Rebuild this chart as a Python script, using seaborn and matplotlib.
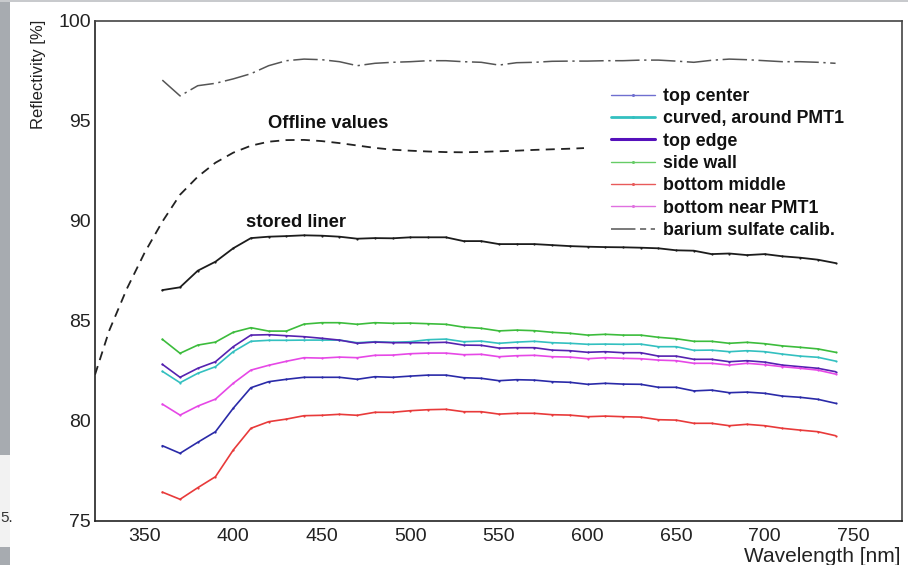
import matplotlib
matplotlib.use("Agg")
import matplotlib.pyplot as plt
import seaborn as sns
from matplotlib.lines import Line2D
from matplotlib.patches import Rectangle
from matplotlib.ticker import MultipleLocator

# ---------------- data ----------------
wavelength = [360, 370, 380, 390, 400, 410, 420, 430, 440, 450, 460, 470, 480,
              490, 500, 510, 520, 530, 540, 550, 560, 570, 580, 590, 600, 610,
              620, 630, 640, 650, 660, 670, 680, 690, 700, 710, 720, 730, 740]

top_center = [78.75, 78.37, 78.92, 79.45, 80.62, 81.65, 81.95, 82.07, 82.17, 82.17,
              82.17, 82.07, 82.20, 82.17, 82.23, 82.28, 82.28, 82.15, 82.12, 82.00,
              82.05, 82.03, 81.95, 81.92, 81.82, 81.87, 81.83, 81.82, 81.67, 81.67,
              81.49, 81.53, 81.40, 81.43, 81.37, 81.23, 81.17, 81.07, 80.87]

curved_pmt1 = [82.47, 81.90, 82.37, 82.70, 83.45, 83.97, 84.02, 84.02, 84.03, 84.03,
               84.03, 83.90, 83.95, 83.92, 83.95, 84.05, 84.08, 83.95, 83.98, 83.87,
               83.93, 83.97, 83.90, 83.87, 83.82, 83.83, 83.82, 83.83, 83.70, 83.70,
               83.52, 83.53, 83.45, 83.50, 83.45, 83.33, 83.23, 83.17, 82.98]

top_edge = [82.82, 82.17, 82.62, 82.95, 83.70, 84.28, 84.30, 84.25, 84.20, 84.12,
            84.03, 83.87, 83.93, 83.90, 83.90, 83.90, 83.92, 83.78, 83.77, 83.63,
            83.65, 83.65, 83.53, 83.50, 83.42, 83.45, 83.40, 83.40, 83.23, 83.23,
            83.07, 83.07, 82.95, 83.00, 82.93, 82.78, 82.70, 82.62, 82.45]

side_wall = [84.07, 83.37, 83.78, 83.93, 84.42, 84.65, 84.48, 84.48, 84.83, 84.90,
             84.90, 84.82, 84.90, 84.87, 84.88, 84.85, 84.82, 84.68, 84.62, 84.49,
             84.53, 84.50, 84.42, 84.37, 84.28, 84.32, 84.28, 84.28, 84.17, 84.10,
             83.97, 83.97, 83.87, 83.92, 83.85, 83.74, 83.67, 83.59, 83.42]

bottom_middle = [76.43, 76.07, 76.65, 77.20, 78.53, 79.62, 79.95, 80.08, 80.25, 80.27,
                 80.32, 80.27, 80.42, 80.42, 80.50, 80.55, 80.57, 80.45, 80.45, 80.33,
                 80.37, 80.37, 80.30, 80.28, 80.20, 80.23, 80.20, 80.18, 80.05, 80.03,
                 79.87, 79.87, 79.75, 79.82, 79.75, 79.62, 79.53, 79.45, 79.25]

bottom_near_pmt1 = [80.83, 80.28, 80.73, 81.08, 81.87, 82.53, 82.77, 82.97, 83.15, 83.13,
                    83.18, 83.15, 83.27, 83.28, 83.35, 83.38, 83.38, 83.30, 83.32, 83.20,
                    83.25, 83.27, 83.20, 83.18, 83.10, 83.15, 83.12, 83.10, 83.03, 83.00,
                    82.87, 82.87, 82.78, 82.87, 82.80, 82.70, 82.62, 82.53, 82.33]

barium_sulfate = [97.03, 96.24, 96.75, 96.87, 97.09, 97.35, 97.75, 98.00, 98.08, 98.05,
                  97.95, 97.75, 97.87, 97.92, 97.95, 98.00, 98.00, 97.95, 97.92, 97.78,
                  97.90, 97.92, 97.97, 97.98, 97.98, 98.00, 98.00, 98.03, 98.03, 97.98,
                  97.92, 98.02, 98.08, 98.05, 98.00, 97.95, 97.95, 97.92, 97.87]

stored_liner = [86.53, 86.67, 87.50, 87.95, 88.62, 89.13, 89.20, 89.23, 89.27, 89.25,
                89.20, 89.10, 89.13, 89.12, 89.17, 89.17, 89.17, 88.98, 88.98, 88.83,
                88.83, 88.83, 88.78, 88.73, 88.70, 88.68, 88.67, 88.65, 88.62, 88.52,
                88.50, 88.33, 88.36, 88.28, 88.33, 88.22, 88.15, 88.05, 87.88]

offline_wavelength = [322, 330, 340, 350, 360, 370, 380, 390, 400, 410, 420, 430, 440,
                      450, 460, 470, 480, 490, 500, 510, 520, 530, 540, 550, 560, 570,
                      580, 590, 598]
offline_values = [82.3, 84.5, 86.6, 88.4, 89.95, 91.3, 92.2, 92.9, 93.4, 93.75, 93.95,
                  94.03, 94.04, 93.98, 93.88, 93.76, 93.64, 93.55, 93.5, 93.46, 93.43,
                  93.42, 93.44, 93.47, 93.5, 93.54, 93.57, 93.6, 93.63]

series_labels = ["top center", "curved, around PMT1", "top edge", "side wall",
                 "bottom middle", "bottom near PMT1"]
series_values = [top_center, curved_pmt1, top_edge, side_wall, bottom_middle,
                 bottom_near_pmt1]
series_colors = ["#2a2aa8", "#33c0c0", "#5522b0", "#3cbc3c", "#e83a3a", "#e648e6"]
legend_colors = ["#6f6fd0", "#33c0c0", "#5511bb", "#66cc66", "#e85a5a", "#e070e0"]
legend_widths = [1.0, 2.0, 2.2, 1.0, 1.0, 1.0]
barium_label = "barium sulfate calib."

x_ticks = [350, 400, 450, 500, 550, 600, 650, 700, 750]
y_ticks = [75, 80, 85, 90, 95, 100]

# ---------------- style ----------------
sns.set_theme(style="white")
plt.rcParams['font.family'] = ['Liberation Sans', 'DejaVu Sans']

W, H = 908, 565
fig = plt.figure(figsize=(W / 100, H / 100), dpi=100)
fig.patch.set_facecolor("white")

# background artefacts of the cropped slide
fig.patches.append(Rectangle((0, (H - 455) / H), 10 / W, 1, transform=fig.transFigure,
                             facecolor="#a7abb0", edgecolor="none", zorder=0))
fig.patches.append(Rectangle((0, 18 / H), 10 / W, (547 - 455) / H,
                             transform=fig.transFigure, facecolor="#f2f2f2",
                             edgecolor="none", zorder=0))
fig.patches.append(Rectangle((0, 0), 10 / W, 18 / H, transform=fig.transFigure,
                             facecolor="#a7abb0", edgecolor="none", zorder=0))
fig.patches.append(Rectangle((0, 1 - 2 / H), 1, 2 / H, transform=fig.transFigure,
                             facecolor="#c8cacd", edgecolor="none", zorder=0))
fig.text(0.5 / W, 1 - 518 / H, "5.", ha="left", va="center", fontsize=11, color="#333333")

ax = fig.add_axes([95 / W, 1 - 520.7 / H, 807 / W, 500 / H])
ax.set_facecolor("white")

# measured series
for vals, col in zip(series_values, series_colors):
    sns.lineplot(x=wavelength, y=vals, ax=ax, color=col, lw=1.2, marker="o",
                 markersize=1.6, markeredgewidth=0, legend=False, sort=False)

sns.lineplot(x=wavelength, y=stored_liner, ax=ax, color="#1c1c1c", lw=1.3, marker="o",
             markersize=1.6, markeredgewidth=0, legend=False, sort=False)

ba_style = (0, (16, 3, 1.5, 3))
sns.lineplot(x=wavelength, y=barium_sulfate, ax=ax, color="#555555", lw=1.1,
             linestyle=ba_style, legend=False, sort=False)

sns.lineplot(x=offline_wavelength, y=offline_values, ax=ax, color="#222222", lw=1.3,
             linestyle=(0, (5, 3.5)), legend=False, sort=False)

ax.text(453.9, 94.87, "Offline values", ha="center", va="center", fontsize=13.2,
        fontweight="bold", color="#111111")
ax.text(435.6, 89.91, "stored liner", ha="center", va="center", fontsize=13.2,
        fontweight="bold", color="#111111")

# axes
ax.set_xlim(322, 777.5)
ax.set_ylim(75, 100)
ax.set_xticks(x_ticks)
ax.set_yticks(y_ticks)
ax.xaxis.set_minor_locator(MultipleLocator(10))
ax.yaxis.set_minor_locator(MultipleLocator(1))
ax.set_xlabel("")
ax.set_ylabel("")
ax.tick_params(axis="both", which="both", direction="in", colors="#222222",
               width=1.3, labelsize=14, top=False, right=False)
ax.yaxis.set_tick_params(which="major", length=17, pad=3)
ax.yaxis.set_tick_params(which="minor", length=8.5)
ax.xaxis.set_tick_params(which="major", length=10.5, pad=5)
ax.xaxis.set_tick_params(which="minor", length=5.2)
for s in ax.spines.values():
    s.set_visible(True)
    s.set_color("#444444")
    s.set_linewidth(1.2)
ax.spines["left"].set_color("#222222")
ax.spines["bottom"].set_color("#222222")

fig.text(38 / W, 1 - 20 / H, "Reflectivity [%]", rotation=90, ha="center", va="top",
         fontsize=12, color="#222222")
fig.text(901 / W, 1 - 556 / H, "Wavelength [nm]", ha="right", va="center",
         fontsize=15, color="#222222")

# legend
handles = [Line2D([], [], color=c, lw=w, marker="o", markersize=2.2, markeredgewidth=0)
           for c, w in zip(legend_colors, legend_widths)]
handles.append(Line2D([], [], color="#555555", lw=1.1, linestyle=(0, (16, 3, 4, 3))))
labels = series_labels + [barium_label]
leg = ax.legend(handles, labels, loc="upper left", bbox_to_anchor=(611 / W, 1 - 88 / H),
                bbox_transform=fig.transFigure, frameon=False, fontsize=12.8,
                handlelength=2.47, handletextpad=0.45, labelspacing=0.3, borderpad=0,
                borderaxespad=0, numpoints=1)
for t in leg.get_texts():
    t.set_fontweight("bold")
    t.set_color("#111111")

fig.savefig("out.png", dpi=100)
